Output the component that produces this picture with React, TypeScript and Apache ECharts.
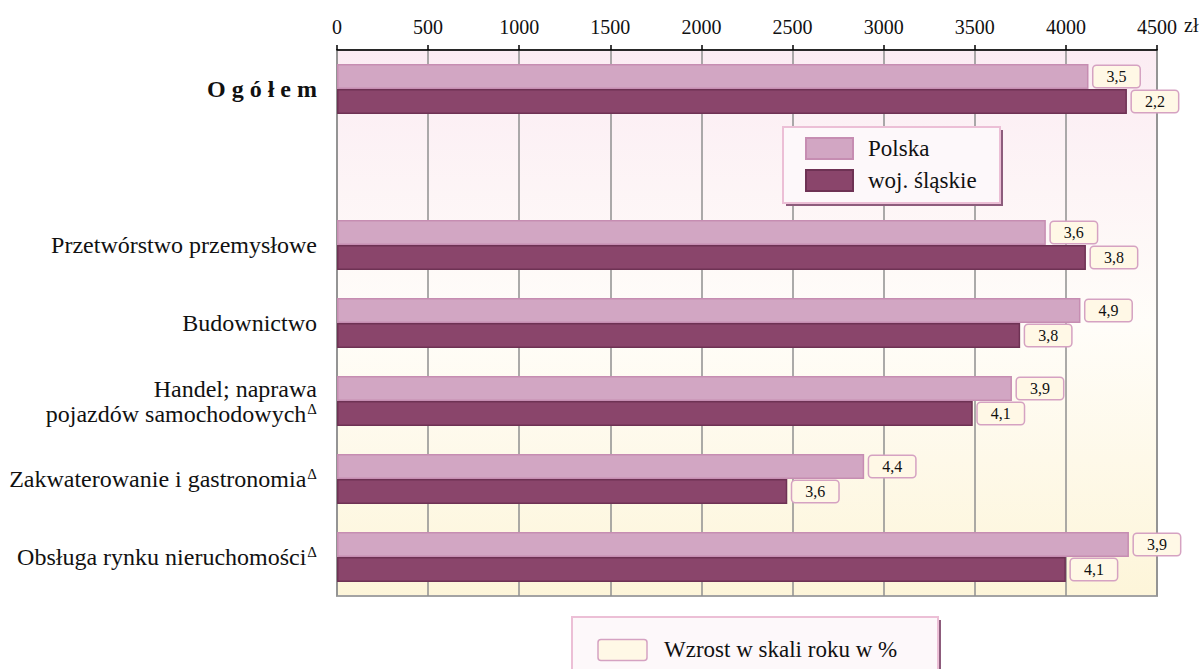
import React, { useEffect, useRef } from 'react';
import * as echarts from 'echarts';

const categories = [
  'Ogółem',
  '',
  'Przetwórstwo przemysłowe',
  'Budownictwo',
  'Handel; naprawa pojazdów samochodowych',
  'Zakwaterowanie i gastronomia',
  'Obsługa rynku nieruchomości',
];
const categoryRich = [
  '{b|O g ó ł e m}',
  '',
  '{n|Przetwórstwo przemysłowe}',
  '{n|Budownictwo}',
  '{n|Handel; naprawa}\n{n|pojazdów samochodowych}{s|Δ}',
  '{n|Zakwaterowanie i gastronomia}{s|Δ}',
  '{n|Obsługa rynku nieruchomości}{s|Δ}',
];
const seriesNames = ['Polska', 'woj. śląskie'];
const polskaValues: (number | null)[] = [4124, null, 3890, 4080, 3704, 2893, 4346];
const slaskieValues: (number | null)[] = [4335, null, 4110, 3749, 3489, 2471, 4000];
const polskaGrowth = ['3,5', '', '3,6', '4,9', '3,9', '4,4', '3,9'];
const slaskieGrowth = ['2,2', '', '3,8', '3,8', '4,1', '3,6', '4,1'];
const axisMin = 0;
const axisMax = 4500;
const axisInterval = 500;
const axisUnit = 'zł';
const growthLegendText = 'Wzrost w skali roku w %';

const SERIF = '"Liberation Serif", "Times New Roman", serif';

const labelBox = {
  show: true,
  position: 'right' as const,
  distance: 5,
  backgroundColor: '#fff8e6',
  borderColor: '#d5a2c2',
  borderWidth: 1.5,
  borderRadius: 3,
  padding: [2, 0, 2, 0],
  rich: {
    v: {
      width: 46,
      align: 'center' as const,
      fontSize: 16,
      lineHeight: 17,
      fontFamily: SERIF,
      color: '#111',
    },
  },
};

export default function App() {
  const ref = useRef<HTMLDivElement>(null);
  useEffect(() => {
    if (!ref.current) return;
    const chart = echarts.init(ref.current, null, { renderer: 'svg' });
    const option = {
      animation: false,
      grid: {
        left: 337,
        right: 45,
        top: 50,
        bottom: 73,
        show: true,
        backgroundColor: new echarts.graphic.LinearGradient(0, 0, 0, 1, [
          { offset: 0, color: '#fbecf3' },
          { offset: 0.5, color: '#fffdf9' },
          { offset: 1, color: '#fdf5d9' },
        ]),
        borderColor: '#a3a3a3',
        borderWidth: 2,
      },
      legend: {
        data: seriesNames,
        orient: 'vertical',
        left: 805,
        top: 137,
        itemWidth: 47,
        itemHeight: 21,
        itemGap: 9,
        padding: 0,
        icon: 'rect',
        selectedMode: false,
        textStyle: {
          fontFamily: SERIF,
          fontSize: 23,
          color: '#111',
          padding: [0, 0, 0, 10],
        },
        z: 10,
      },
      xAxis: {
        type: 'value',
        position: 'top',
        min: axisMin,
        max: axisMax,
        interval: axisInterval,
        axisLine: { show: true, lineStyle: { color: '#000', width: 1.5 } },
        axisTick: { show: true, length: 5, lineStyle: { color: '#000', width: 1.5 } },
        axisLabel: {
          fontFamily: SERIF,
          fontSize: 20,
          color: '#111',
          margin: 13,
          formatter: (v: number) => String(v),
        },
        splitLine: { show: true, lineStyle: { color: '#8f8f8f', width: 1.5 } },
      },
      yAxis: {
        type: 'category',
        inverse: true,
        data: categories,
        axisLine: { show: false },
        axisTick: { show: false },
        splitLine: { show: false },
        axisLabel: {
          margin: 20,
          align: 'right',
          formatter: (_v: string, i: number) => categoryRich[i],
          rich: {
            n: { fontFamily: SERIF, fontSize: 24, color: '#111', lineHeight: 25 },
            b: { fontFamily: SERIF, fontSize: 24, fontWeight: 'bold', color: '#111', lineHeight: 25 },
            s: { fontFamily: SERIF, fontSize: 15, color: '#111', verticalAlign: 'top', lineHeight: 15, padding: [0, 0, 0, 1] },
          },
        },
      },
      series: [
        {
          name: seriesNames[0],
          type: 'bar',
          data: polskaValues,
          barGap: '0%',
          barCategoryGap: '36%',
          itemStyle: { color: '#d2a6c3', borderColor: '#c68db2', borderWidth: 1.5 },
          label: { ...labelBox, formatter: (p: any) => `{v|${polskaGrowth[p.dataIndex]}}` },
          z: 3,
        },
        {
          name: seriesNames[1],
          type: 'bar',
          data: slaskieValues,
          barGap: '0%',
          barCategoryGap: '36%',
          itemStyle: { color: '#8a456b', borderColor: '#6e3254', borderWidth: 1.5 },
          label: { ...labelBox, formatter: (p: any) => `{v|${slaskieGrowth[p.dataIndex]}}` },
          z: 3,
        },
      ],
      graphic: [
        {
          type: 'text',
          left: 1184,
          top: 15,
          style: { text: axisUnit, fontFamily: SERIF, fontSize: 20, fill: '#111' },
        },
        // series legend box
        {
          type: 'rect',
          z: 5,
          shape: { x: 786, y: 130, width: 217, height: 76 },
          style: { fill: '#8d5c7c' },
        },
        {
          type: 'rect',
          z: 6,
          shape: { x: 783, y: 127, width: 217, height: 76 },
          style: { fill: '#fdf8fa', stroke: '#ecbfd6', lineWidth: 2 },
        },
        // growth legend box
        {
          type: 'rect',
          z: 5,
          shape: { x: 575, y: 620, width: 366, height: 60 },
          style: { fill: '#8d5c7c' },
        },
        {
          type: 'rect',
          z: 6,
          shape: { x: 572, y: 617, width: 366, height: 60 },
          style: { fill: '#fdf8fa', stroke: '#ecbfd6', lineWidth: 2 },
        },
        {
          type: 'rect',
          z: 7,
          shape: { x: 598, y: 639.5, width: 49, height: 21, r: 3 },
          style: { fill: '#fff8e6', stroke: '#d5a2c2', lineWidth: 1.5 },
        },
        {
          type: 'text',
          z: 7,
          left: 664,
          top: 638,
          style: { text: growthLegendText, fontFamily: SERIF, fontSize: 23, fill: '#111' },
        },
      ],
    };
    chart.setOption(option as any);
    return () => chart.dispose();
  }, []);
  return (
    <div
      ref={ref}
      style={{ position: 'absolute', left: 0, top: 0, width: 1202, height: 669, background: '#fff' }}
    />
  );
}
